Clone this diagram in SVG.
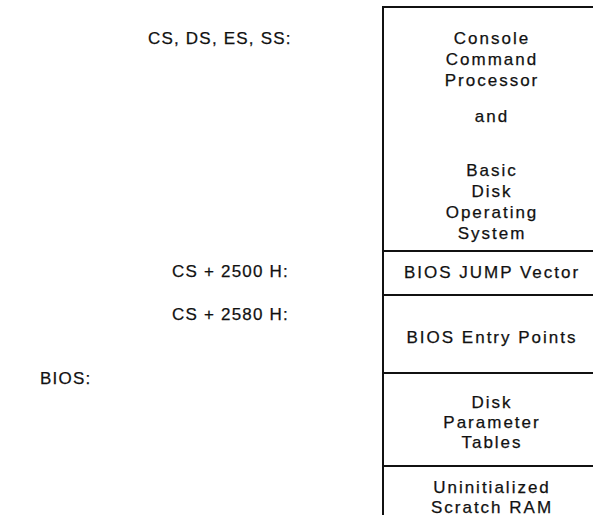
<svg xmlns="http://www.w3.org/2000/svg" width="593" height="521" viewBox="0 0 593 521">
<style>
text{font-family:"Liberation Sans",Arial,sans-serif;font-size:17px;fill:#111;stroke:#111;stroke-width:0.25px;letter-spacing:2px}
.l{letter-spacing:1.2px}
.c{text-anchor:middle}
.ln{stroke:#111;stroke-width:2;fill:none}
</style>
<rect width="593" height="521" fill="#fff"/>
<g id="labels">
<text class="l" x="148" y="44">CS, DS, ES, SS:</text>
<text class="l" x="172" y="277">CS + 2500 H:</text>
<text class="l" x="172" y="320">CS + 2580 H:</text>
<text class="l" x="40" y="384">BIOS:</text>
</g>
<g id="frame">
<path class="ln" d="M383,515 V7 H593" stroke-width="2.2"/>
</g>
<g id="ccp">
<text class="c" x="492" y="44">Console</text>
<text class="c" x="492" y="65">Command</text>
<text class="c" x="492" y="86">Processor</text>
<text class="c" x="492" y="122">and</text>
<text class="c" x="492" y="176">Basic</text>
<text class="c" x="492" y="197">Disk</text>
<text class="c" x="492" y="218">Operating</text>
<text class="c" x="492" y="239">System</text>
</g>
<g id="jump">
<line class="ln" x1="383" y1="251" x2="593" y2="251"/>
<text class="c" x="492" y="278">BIOS JUMP Vector</text>
</g>
<g id="entry">
<line class="ln" x1="383" y1="295" x2="593" y2="295"/>
<text class="c" x="492" y="343">BIOS Entry Points</text>
</g>
<g id="dpt">
<line class="ln" x1="383" y1="373" x2="593" y2="373"/>
<text class="c" x="492" y="408">Disk</text>
<text class="c" x="492" y="428">Parameter</text>
<text class="c" x="492" y="448">Tables</text>
</g>
<g id="scratch">
<line class="ln" x1="383" y1="466" x2="593" y2="466"/>
<text class="c" x="492" y="493">Uninitialized</text>
<text class="c" x="492" y="513">Scratch RAM</text>
</g>
</svg>
